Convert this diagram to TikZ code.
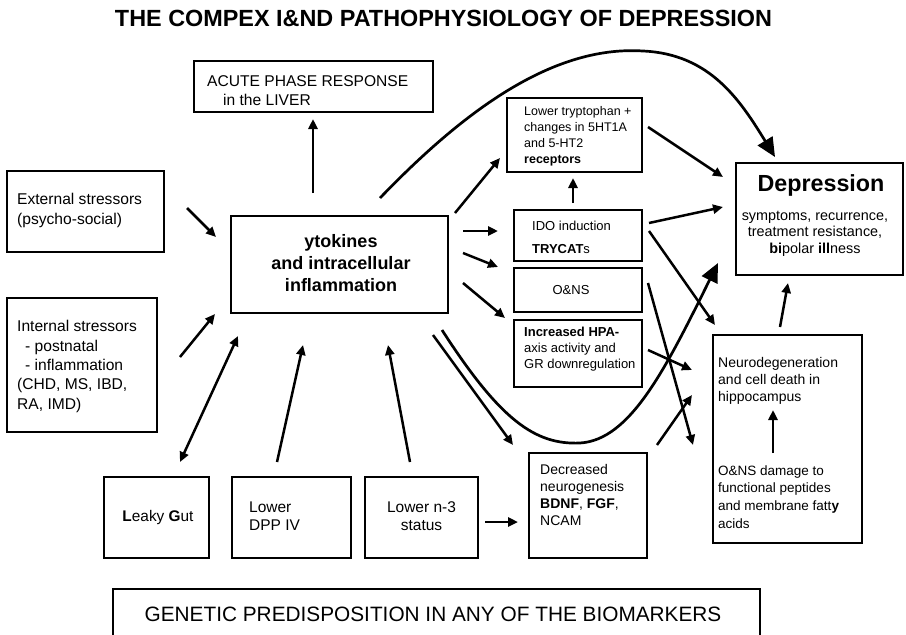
\documentclass[tikz,border=0pt]{standalone}
\usepackage{fontspec}
\setmainfont{Liberation Sans}
\usetikzlibrary{arrows.meta}
\newcommand{\fsz}[2]{\fontsize{#1}{#2}\selectfont}
\begin{document}
\begin{tikzpicture}[x=1pt,y=-1pt,
  box/.style={draw, line width=1.5pt, inner sep=0pt},
  txt/.style={inner sep=0pt, align=left},
  arr/.style={line width=2.5pt, -{Triangle[length=10pt,width=9pt]}},
  dblarr/.style={line width=2.5pt, {Triangle[length=10pt,width=9pt]}-{Triangle[length=10pt,width=9pt]}},
  bigarr/.style={line width=2.7pt, -{Triangle[length=19pt,width=17pt]}}]
\useasboundingbox (0,0) rectangle (906,635);
\clip (0,0) rectangle (906,635);

% title
\node[font=\bfseries\fsz{23.4}{28}, inner sep=0pt] (title) at (443.5,18.5) {THE COMPEX I\&ND PATHOPHYSIOLOGY OF DEPRESSION};

% boxes
\node[box, minimum width=239pt, minimum height=51pt] (acute) at (313.5,86.5) {};
\node[box, minimum width=135pt, minimum height=74pt] (tryp) at (574.5,135) {};
\node[box, minimum width=167pt, minimum height=112pt] (depr) at (819.5,219) {};
\node[box, minimum width=157pt, minimum height=81pt] (ext) at (85.5,211.5) {};
\node[box, minimum width=217pt, minimum height=97pt] (cyt) at (339.5,264.5) {};
\node[box, minimum width=128pt, minimum height=51pt] (ido) at (578,235.5) {};
\node[box, minimum width=128pt, minimum height=44pt] (ons) at (578,290) {};
\node[box, minimum width=128pt, minimum height=67pt] (hpa) at (578,353.5) {};
\node[box, minimum width=150pt, minimum height=134pt] (intern) at (82,365) {};
\node[box, minimum width=149pt, minimum height=208pt] (neuro) at (787.5,439) {};
\node[box, minimum width=118pt, minimum height=105pt] (decr) at (588,505.5) {};
\node[box, minimum width=105pt, minimum height=81pt] (leaky) at (156.5,517.5) {};
\node[box, minimum width=119pt, minimum height=81pt] (dpp) at (291.5,517.5) {};
\node[box, minimum width=113pt, minimum height=81pt] (nthree) at (421.5,517.5) {};
\node[box, minimum width=647pt, minimum height=80pt] (gen) at (436.5,629) {};

% texts
\node[txt, anchor=west, font=\fsz{15.6}{19}] (acutet) at (207,90.5) {ACUTE PHASE RESPONSE\\\hspace*{16pt}in the LIVER};
\node[txt, anchor=west, font=\fsz{12.5}{16}] (trypt) at (524,136) {Lower tryptophan +\\changes in 5HT1A\\and 5-HT2\\\textbf{receptors}};
\node[inner sep=0pt, font=\bfseries\fsz{23.3}{28}] (deprt) at (821,185) {Depression};
\node[inner sep=0pt, align=center, font=\fsz{14.4}{16.5}] (deprs) at (815,233.5) {symptoms, recurrence,\\treatment resistance,\\\textbf{bi}polar \textbf{ill}ness};
\node[txt, anchor=west, font=\fsz{15.6}{20}] (extt) at (17,210.5) {External stressors\\(psycho-social)};
\node[inner sep=0pt, align=center, font=\bfseries\fsz{18}{22}] (cytt) at (341,263) {ytokines\\and intracellular\\inflammation};
\node[txt, anchor=west, font=\fsz{13}{23}] (idot) at (532,237.5) {IDO induction\\\textbf{TRYCAT}s};
\node[inner sep=0pt, font=\fsz{13}{16}] (onst) at (571,290) {O\&NS};
\node[txt, anchor=west, font=\fsz{13}{16}] (hpat) at (524,349) {\textbf{Increased HPA-}\\axis activity and\\GR downregulation};
\node[txt, anchor=west, font=\fsz{15.6}{19.3}] (internt) at (17,366.5) {Internal stressors\\\hspace*{8pt}- postnatal\\\hspace*{8pt}- inflammation\\(CHD, MS, IBD,\\RA, IMD)};
\node[txt, anchor=west, font=\fsz{14}{17}] (neurot) at (718,381) {Neurodegeneration\\and cell death in\\hippocampus};
\node[txt, anchor=west, font=\fsz{13.5}{17.7}] (neurob) at (718,497) {O\&NS damage to\\functional peptides\\and membrane fatt\textbf{y}\\acids};
\node[txt, anchor=west, font=\fsz{14}{17}] (decrt) at (540,495) {Decreased\\neurogenesis\\\textbf{BDNF}, \textbf{FGF},\\NCAM};
\node[inner sep=0pt, font=\fsz{15.4}{18}] (leakyt) at (158,518) {\textbf{L}eaky \textbf{G}ut};
\node[txt, anchor=west, font=\fsz{15.5}{18}] (dppt) at (249,516) {Lower\\DPP IV};
\node[inner sep=0pt, align=center, font=\fsz{15.5}{18}] (nthreet) at (421.5,516) {Lower n-3\\status};
\node[inner sep=0pt, font=\fsz{20.8}{24}] (gent) at (433,614) {GENETIC PREDISPOSITION IN ANY OF THE BIOMARKERS};

% connector end points
\coordinate (cA1) at (313,193);   \coordinate (cA2) at (313,119);
\coordinate (eC1) at (187,208);   \coordinate (eC2) at (216,237);
\coordinate (iC1) at (180,357);   \coordinate (iC2) at (215,314);
\coordinate (lC1) at (180,462);   \coordinate (lC2) at (238,336);
\coordinate (dC1) at (277,462);   \coordinate (dC2) at (303,345);
\coordinate (nC1) at (410,462);   \coordinate (nC2) at (388,345);
\coordinate (cT1) at (455,213);   \coordinate (cT2) at (500,158);
\coordinate (cI1) at (463,231);   \coordinate (cI2) at (498,231);
\coordinate (cO1) at (463,253);   \coordinate (cO2) at (498,267);
\coordinate (cH1) at (463,283);   \coordinate (cH2) at (505,318);
\coordinate (cD1) at (433,335);   \coordinate (cD2) at (513,445);
\coordinate (iT1) at (573,203);   \coordinate (iT2) at (573,178);
\coordinate (tP1) at (648,127);   \coordinate (tP2) at (723,177);
\coordinate (iP1) at (649,223);   \coordinate (iP2) at (723,207);
\coordinate (iN1) at (649,231);   \coordinate (iN2) at (715,325);
\coordinate (oN1) at (648,283);   \coordinate (oN2) at (693,445);
\coordinate (hN1) at (648,350);   \coordinate (hN2) at (692,370);
\coordinate (dN1) at (657,445);   \coordinate (dN2) at (692,395);
\coordinate (nP1) at (780,327);   \coordinate (nP2) at (788,283);
\coordinate (bT1) at (773,453);   \coordinate (bT2) at (773,410);
\coordinate (nD1) at (485,522);   \coordinate (nD2) at (518,522);
\coordinate (gc1) at (380,198);   \coordinate (gc2) at (775,157);
\coordinate (bc1) at (442,330);   \coordinate (bc2) at (718,263);

% straight connectors
\draw[arr] (cA1) -- (cA2);
\draw[arr] (eC1) -- (eC2);
\draw[arr] (iC1) -- (iC2);
\draw[dblarr] (lC1) -- (lC2);
\draw[arr] (dC1) -- (dC2);
\draw[arr] (nC1) -- (nC2);
\draw[arr] (cT1) -- (cT2);
\draw[arr] (cI1) -- (cI2);
\draw[arr] (cO1) -- (cO2);
\draw[arr] (cH1) -- (cH2);
\draw[arr] (cD1) -- (cD2);
\draw[arr] (iT1) -- (iT2);
\draw[arr] (tP1) -- (tP2);
\draw[arr] (iP1) -- (iP2);
\draw[arr] (iN1) -- (iN2);
\draw[arr] (oN1) -- (oN2);
\draw[arr] (hN1) -- (hN2);
\draw[arr] (dN1) -- (dN2);
\draw[arr] (nP1) -- (nP2);
\draw[arr] (bT1) -- (bT2);
\draw[arr] (nD1) -- (nD2);

% curved connectors
\draw[bigarr] (gc1) .. controls (460,115) and (550,45) .. (643,51)
                     .. controls (710,54) and (740,100) .. (gc2);
\draw[bigarr] (bc1) .. controls (500,420) and (535,445) .. (580,443)
                     .. controls (630,440) and (665,370) .. (bc2);
\end{tikzpicture}
\end{document}
